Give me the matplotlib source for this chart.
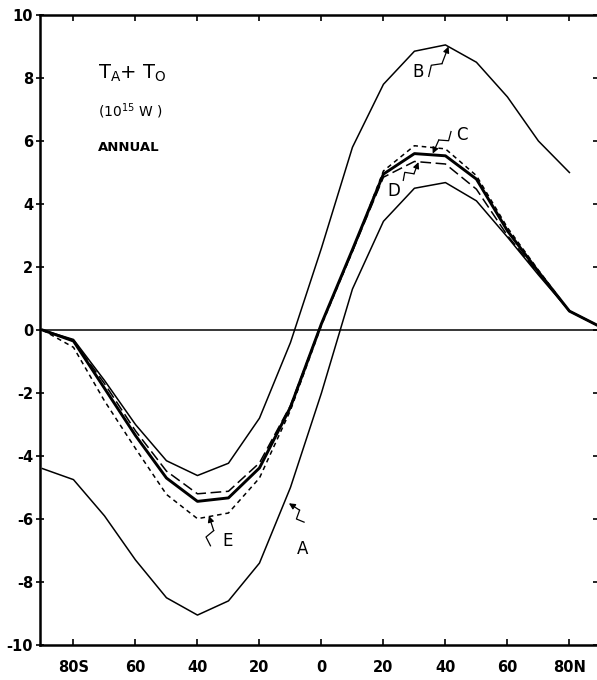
import numpy as np
import matplotlib
matplotlib.use('Agg')
import matplotlib.pyplot as plt

# latitude, 90S .. 90N (negative = south)
lats = [-90, -80, -70, -60, -50, -40, -30, -20, -10, 0, 10, 20, 30, 40, 50, 60, 70, 80, 90]

# northward transport, 10^15 W
curve_a = [-4.4, -4.75, -5.9, -7.3, -8.5, -9.05, -8.6, -7.4, -5.0, -2.0, 1.3, 3.45, 4.5, 4.68, 4.1, 2.95, 1.75, 0.6, 0.1]
curve_b = [0.0, -0.3, -1.6, -3.0, -4.15, -4.62, -4.23, -2.8, -0.4, 2.6, 5.8, 7.8, 8.85, 9.05, 8.5, 7.4, 6.0, 5.0, np.nan]
curve_c = [0.0, -0.35, -1.85, -3.35, -4.7, -5.44, -5.33, -4.38, -2.45, 0.2, 2.55, 4.95, 5.6, 5.53, 4.79, 3.15, 1.85, 0.6, 0.1]
curve_d = [0.0, -0.35, -1.7, -3.2, -4.48, -5.2, -5.12, -4.22, -2.4, 0.2, 2.5, 4.85, 5.35, 5.27, 4.47, 3.0, 1.8, 0.6, 0.1]
curve_e = [0.0, -0.55, -2.25, -3.76, -5.22, -5.99, -5.81, -4.7, -2.55, 0.15, 2.5, 5.05, 5.85, 5.75, 4.9, 3.25, 1.9, 0.6, 0.1]

xtick_pos = [-80, -60, -40, -20, 0, 20, 40, 60, 80]
xtick_lab = ['80S', '60', '40', '20', '0', '20', '40', '60', '80N']
ytick_pos = [-10, -8, -6, -4, -2, 0, 2, 4, 6, 8, 10]

# label text, its position, arrow tail and tip
labels = [
	('A', (-6.1, -6.95), (-5.6, -6.1), (-10.5, -5.5)),
	('B', (31.3, 8.2), (34.6, 8.05), (41.0, 9.0)),
	('C', (45.3, 6.2), (41.8, 6.3), (35.9, 5.6)),
	('D', (23.4, 4.4), (26.4, 4.75), (31.3, 5.33)),
	('E', (-30.4, -6.7), (-35.8, -6.85), (-36.3, -5.9)),
]


def zigzag(ax, tail, tip, w=4.0):
	# lightning style arrow, built in pixel space
	p0 = ax.transData.transform(tail)
	p3 = ax.transData.transform(tip)
	d = p3 - p0
	n = np.array([-d[1], d[0]]) / np.hypot(*d)
	p1 = p0 + d * 0.3 + n * w
	p2 = p0 + d * 0.5 - n * w
	pts = ax.transData.inverted().transform(np.array([p0, p1, p2]))
	ax.plot(pts[:, 0], pts[:, 1], color='black', lw=0.9)
	ax.annotate('', xy=tip, xytext=tuple(pts[2]),
		arrowprops=dict(arrowstyle='-|>', color='black', lw=0.9, mutation_scale=9, shrinkA=0, shrinkB=0))


def main():
	fig = plt.figure(figsize=(5.97, 6.80), dpi=100)
	ax = fig.add_axes([40 / 597, 35 / 680, 557 / 597, 630 / 680])

	ax.axhline(0, color='black', lw=1.1)
	ax.plot(lats, curve_a, color='black', lw=1.1)
	ax.plot(lats, curve_b, color='black', lw=1.1)
	ax.plot(lats, curve_c, color='black', lw=2.1)
	ax.plot(lats, curve_d, color='black', lw=1.1, dashes=(7, 3))
	ax.plot(lats, curve_e, color='black', lw=1.1, dashes=(3, 2.5))

	ax.set_xlim(-90.8, 88.9)
	ax.set_ylim(-10, 10)

	ax.set_xticks(xtick_pos)
	ax.set_xticklabels(xtick_lab)
	ax.set_xticks([0], minor=True)
	ax.set_yticks(ytick_pos)
	ax.set_yticklabels(['%d' % v for v in ytick_pos])

	ax.tick_params(axis='x', which='major', direction='in', length=4, width=1.2, top=True, pad=11, labelsize=10.5)
	ax.tick_params(axis='x', which='minor', direction='in', length=10, width=1.2, top=True)
	ax.tick_params(axis='y', direction='inout', length=6, width=1.2, right=True, pad=2, labelsize=10.5)
	for lab in ax.get_xticklabels() + ax.get_yticklabels():
		lab.set_fontweight('bold')

	for side in ['left', 'bottom', 'top']:
		ax.spines[side].set_linewidth(1.8)
	ax.spines['right'].set_visible(False)

	ax.text(-72, 8.15, r'T$_\mathregular{A}$+ T$_\mathregular{O}$', fontsize=14, va='center', ha='left')
	ax.text(-72, 6.95, r'(10$^\mathregular{15}$ W )', fontsize=10, va='center', ha='left')
	ax.text(-72, 5.8, 'ANNUAL', fontsize=9.5, fontweight='bold', va='center', ha='left')

	for name, pos, tail, tip in labels:
		ax.text(pos[0], pos[1], name, fontsize=12, ha='center', va='center')
		zigzag(ax, tail, tip)

	fig.savefig('out.png', dpi=100)


if __name__ == '__main__':
	main()
